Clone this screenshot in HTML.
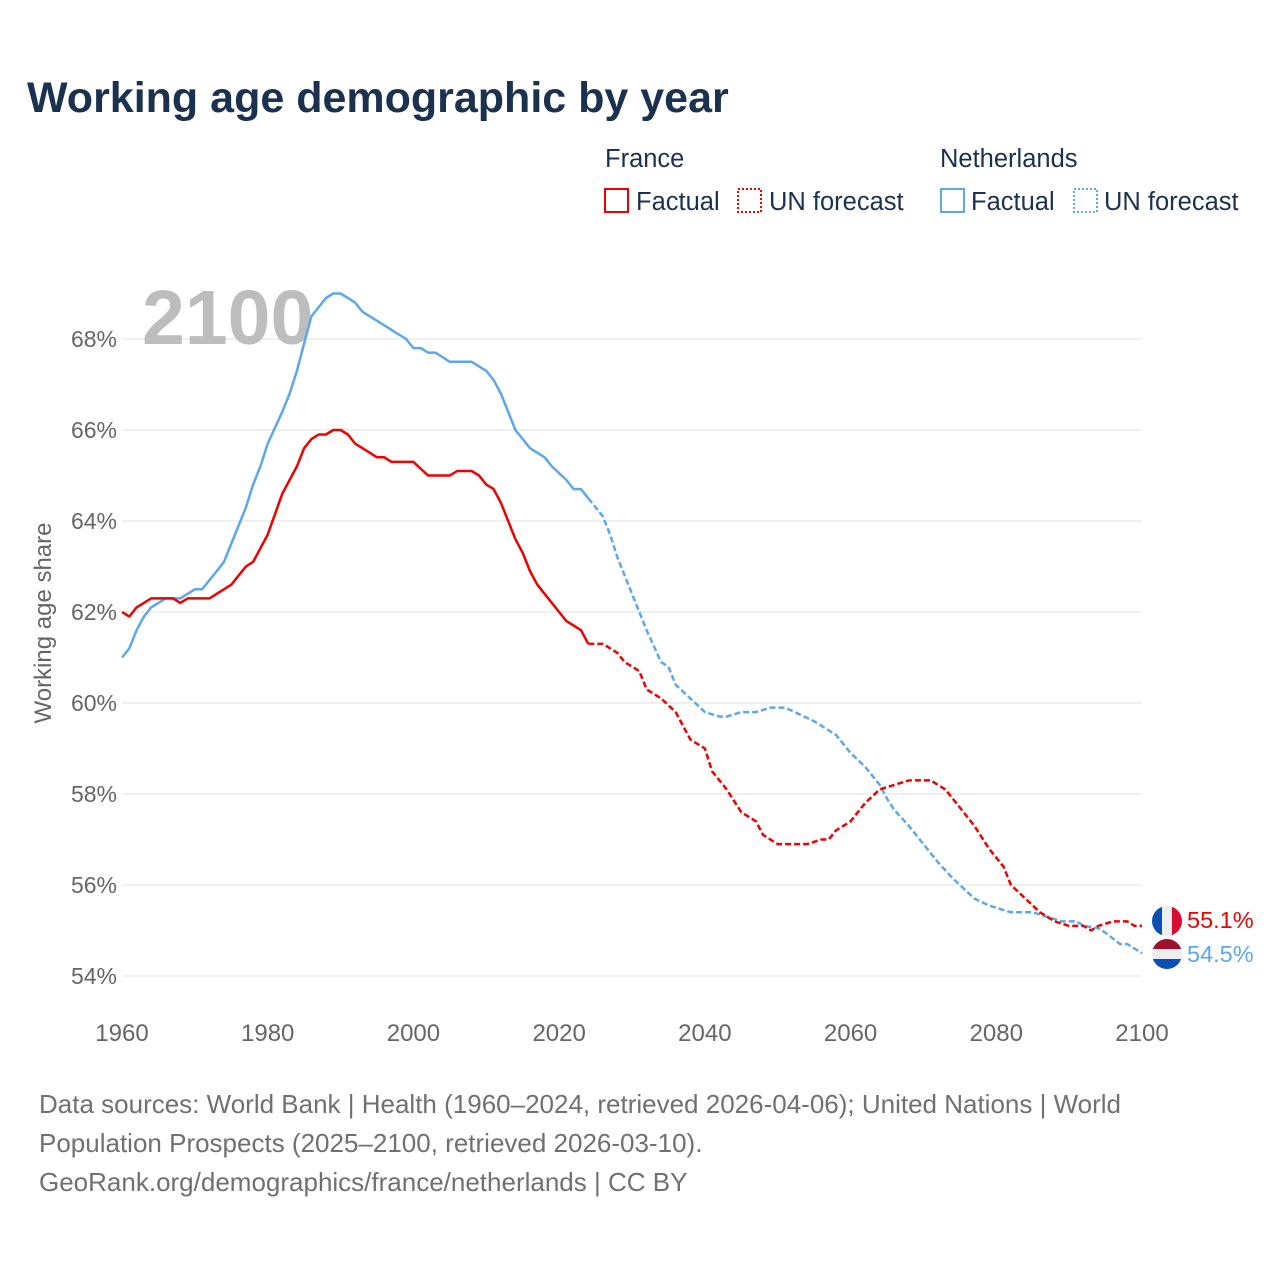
<!DOCTYPE html>
<html><head><meta charset="utf-8">
<style>
body{margin:0;background:#fff;font-family:"Liberation Sans",sans-serif;}
#wrap{position:relative;width:1280px;height:1280px;overflow:hidden;}
</style></head>
<body><div id="wrap">
<svg id="chart" width="1280" height="1280"></svg>
</div>
<script>
const frYears=[1960,1961,1962,1964,1967,1968,1969,1972,1975,1977,1978,1980,1982,1984,1985,1986,1987,1988,1989,1990,1991,1992,1995,1996,1997,2000,2002,2005,2006,2008,2009,2010,2011,2012,2014,2015,2016,2017,2020,2021,2023,2024];
const frVals=[62.0,61.9,62.1,62.3,62.3,62.2,62.3,62.3,62.6,63.0,63.1,63.7,64.6,65.2,65.6,65.8,65.9,65.9,66.0,66.0,65.9,65.7,65.4,65.4,65.3,65.3,65.0,65.0,65.1,65.1,65.0,64.8,64.7,64.4,63.6,63.3,62.9,62.6,62.0,61.8,61.6,61.3];
const frFcYears=[2024,2026,2028,2029,2030,2031,2032,2034,2036,2038,2040,2041,2043,2045,2047,2048,2049,2050,2054,2056,2057,2058,2060,2062,2064,2066,2068,2071,2073,2075,2077,2079,2081,2082,2084,2086,2088,2090,2092,2093,2094,2096,2098,2099,2100];
const frFcVals=[61.3,61.3,61.1,60.9,60.8,60.7,60.3,60.1,59.8,59.2,59.0,58.5,58.1,57.6,57.4,57.1,57.0,56.9,56.9,57.0,57.0,57.2,57.4,57.8,58.1,58.2,58.3,58.3,58.1,57.7,57.3,56.8,56.4,56.0,55.7,55.4,55.2,55.1,55.1,55.0,55.1,55.2,55.2,55.1,55.1];
const nlYears=[1960,1961,1962,1963,1964,1966,1968,1969,1970,1971,1973,1974,1976,1977,1978,1979,1980,1982,1983,1984,1985,1986,1987,1988,1989,1990,1991,1992,1993,1995,1997,1999,2000,2001,2002,2003,2005,2008,2010,2011,2012,2014,2015,2016,2018,2019,2021,2022,2023,2024];
const nlVals=[61.0,61.2,61.6,61.9,62.1,62.3,62.3,62.4,62.5,62.5,62.9,63.1,63.9,64.3,64.8,65.2,65.7,66.4,66.8,67.3,67.9,68.5,68.7,68.9,69.0,69.0,68.9,68.8,68.6,68.4,68.2,68.0,67.8,67.8,67.7,67.7,67.5,67.5,67.3,67.1,66.8,66.0,65.8,65.6,65.4,65.2,64.9,64.7,64.7,64.5];
const nlFcYears=[2024,2025,2026,2027,2028,2030,2032,2034,2035,2036,2038,2040,2042,2043,2045,2047,2049,2051,2053,2055,2057,2058,2060,2062,2064,2065,2066,2068,2070,2072,2074,2075,2077,2079,2080,2082,2085,2087,2089,2091,2092,2094,2095,2097,2098,2099,2100];
const nlFcVals=[64.5,64.3,64.1,63.7,63.2,62.4,61.6,60.9,60.8,60.4,60.1,59.8,59.7,59.7,59.8,59.8,59.9,59.9,59.75,59.6,59.4,59.3,58.9,58.6,58.2,57.9,57.65,57.3,56.9,56.5,56.15,56.0,55.7,55.55,55.5,55.4,55.4,55.3,55.2,55.2,55.1,55.05,54.95,54.7,54.7,54.6,54.5];
const yTicks=[54,56,58,60,62,64,66,68];
const xTicks=[1960,1980,2000,2020,2040,2060,2080,2100];
const finalLabels=["55.1%","54.5%"];

const NS="http://www.w3.org/2000/svg";
const svg=document.getElementById('chart');
const X=y=>122+(y-1960)*(1020/140);
const Y=v=>339+(68-v)*45.5;
function el(tag,attrs,parent){const e=document.createElementNS(NS,tag);for(const k in attrs)e.setAttribute(k,attrs[k]);(parent||svg).appendChild(e);return e;}
const F='"Liberation Sans",sans-serif';

let t=el('text',{x:27,y:112,'font-size':43,'font-weight':'bold',fill:'#1b3150','font-family':F});
t.textContent='Working age demographic by year';



yTicks.forEach(v=>{
  const g=el('line',{x1:122,x2:1142,y1:Y(v),y2:Y(v),stroke:'#e6e6e6','stroke-width':1.3});
  
  
  const l=el('text',{x:117,y:Y(v)+8,'font-size':23,fill:'#666','text-anchor':'end','font-family':F});
  l.textContent=v+'%';
  
  
});
xTicks.forEach(v=>{
  const l=el('text',{x:X(v),y:1041,'font-size':24,fill:'#666','text-anchor':'middle','font-family':F});
  l.textContent=v;
  
  
});
let yt=el('text',{x:0,y:0,'font-size':24,fill:'#666','text-anchor':'middle','font-family':F,transform:'translate(51,623) rotate(-90)'});
yt.textContent='Working age share';



let yr=el('text',{x:142,y:344,'font-size':77,'font-weight':'bold',fill:'#bdbdbd','font-family':F});
yr.textContent='2100';



function line(xs,vs,color,dash,name){
  const d=xs.map((x,i)=>(i?'L':'M')+X(x).toFixed(1)+','+Y(vs[i]).toFixed(1)).join('');
  const p=el('path',{d:d,fill:'none',stroke:color,'stroke-width':2.5,'stroke-linejoin':'round'});
  if(dash)p.setAttribute('stroke-dasharray','6 3');
  
  
}
const RED='#f20000',BLUE='#5da8ea';
line(nlYears,nlVals,BLUE,false,'netherlands-factual-line');
line(nlFcYears,nlFcVals,BLUE,true,'netherlands-forecast-line');
line(frYears,frVals,RED,false,'france-factual-line');
line(frFcYears,frFcVals,RED,true,'france-forecast-line');

function flag(cy,stripes,vertical,name){
  const g=el('g',{});
  
  
  const id='c'+name;
  const cp=el('clipPath',{id:id},g);el('circle',{cx:1167,cy:cy,r:15},cp);
  stripes.forEach((c,i)=>{
    if(vertical) el('rect',{x:1152+i*10,y:cy-15,width:10.5,height:30,fill:c,'clip-path':'url(#'+id+')'},g);
    else el('rect',{x:1152,y:cy-15+i*10,width:30,height:10.5,fill:c,'clip-path':'url(#'+id+')'},g);
  });
}
flag(921,['#0a4fb5','#eeeeee','#dd0a2f'],true,'france-flag');
flag(954,['#a0102a','#eeeeee','#0a4fb5'],false,'netherlands-flag');
let fl=el('text',{x:1187,y:928,'font-size':23.5,fill:RED,'font-family':F});fl.textContent=finalLabels[0];


let nl=el('text',{x:1187,y:962,'font-size':23.5,fill:BLUE,'font-family':F});nl.textContent=finalLabels[1];



function txt(x,y,s,name,size,color){const e=el('text',{x:x,y:y,'font-size':size||25.5,fill:color||'#1b3150','font-family':F});e.textContent=s;
  
  return e;}
txt(605,167,'France','legend-group-france');
txt(940,167,'Netherlands','legend-group-netherlands');
function box(x,color,dash,name){const r=el('rect',{x:x,y:189,width:23,height:23,fill:'none',stroke:color,'stroke-width':2});if(dash)r.setAttribute('stroke-dasharray','2 2');
  
  }
box(605,RED,false,'legend-france-factual-swatch');txt(636,210,'Factual','legend-france-factual');
box(738,RED,true,'legend-france-forecast-swatch');txt(769,210,'UN forecast','legend-france-forecast');
box(941,BLUE,false,'legend-nl-factual-swatch');txt(971,210,'Factual','legend-nl-factual');
box(1074,BLUE,true,'legend-nl-forecast-swatch');txt(1104,210,'UN forecast','legend-nl-forecast');

txt(39,1113,'Data sources: World Bank | Health (1960–2024, retrieved 2026-04-06); United Nations | World','source-note',26,'#707070');
txt(39,1152,'Population Prospects (2025–2100, retrieved 2026-03-10).','source-note-2',26,'#707070');
txt(39,1191,'GeoRank.org/demographics/france/netherlands | CC BY','attribution',26,'#707070');
</script>
</body></html>
